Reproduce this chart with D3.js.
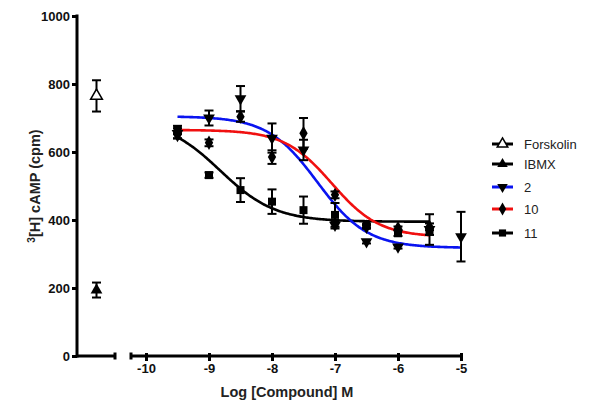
<!DOCTYPE html>
<html><head><meta charset="utf-8">
<script src="https://cdn.jsdelivr.net/npm/d3@7"></script>
<style>body{margin:0;background:#fff}svg{display:block}text{font-family:Arial,"Liberation Sans",sans-serif}</style>
</head><body><svg id="c" width="600" height="407"></svg>
<script>
// ---- data ----
const logConc = [-9.5, -9, -8.5, -8, -7.5, -7, -6.5, -6, -5.5, -5];
const c2Mean  = [655, 700, 757, 641, 606, 385, 336, 321, 372, 351];
const c2Err   = [15, 22, 37, 43, 30, 10, 5, 5, 45, 73];
const c10Mean = [650, 627, 704, 585, 655, 474, 380, 376, 380];
const c10Err  = [10, 10, 15, 20, 45, 10, 5, 5, 10];
const c11Mean = [665, 532, 488, 454, 429, 415, 383, 361, 366];
const c11Err  = [12, 8, 35, 36, 40, 35, 5, 8, 10];
const controlNames = ["Forskolin", "IBMX"];
const controlMean = [765, 194];
const controlErr  = [46, 22];
// fitted sigmoid parameters: [top, bottom, logIC50, hill, xmin, xmax]
const fit2  = [705, 318, -7.28, 1.1, -9.5, -5];
const fit10 = [665, 350, -7.05, 1.15, -9.5, -5.5];
const fit11 = [695, 395, -8.82, 1.0, -9.5, -5.5];
const xTicks = [-10, -9, -8, -7, -6, -5];
const yTicks = [0, 200, 400, 600, 800, 1000];
const legendNames = ["Forskolin", "IBMX", "2", "10", "11"];

// ---- scales ----
const svg = d3.select("#c");
const y = d3.scaleLinear().domain([0, 1000]).range([356, 16]);
const x = d3.scaleLinear().domain([-10, -5]).range([146, 461]);
const xc = d3.scaleBand().domain(["ctrl"]).range([77, 116]);
const xStart = x.invert(130);
const fmt = d3.format("d");

// ---- axes ----
const yAx = svg.append("g").attr("transform", "translate(77,0)")
  .call(d3.axisLeft(y).tickValues(yTicks).tickFormat(fmt).tickSize(5).tickSizeOuter(0).tickPadding(2));
yAx.select(".domain").attr("stroke-width", 3).attr("d", "M0,14.5V357.5");
yAx.selectAll(".tick line").attr("stroke-width", 3);
yAx.selectAll("text").attr("font-size", 13).attr("font-weight", "bold").attr("fill", "#111");

// left x segment (control section)
svg.append("line").attr("x1", 76).attr("x2", xc.range()[1]).attr("y1", 356).attr("y2", 356)
  .attr("stroke", "#000").attr("stroke-width", 3);
svg.append("line").attr("x1", xc.range()[1]-1).attr("x2", xc.range()[1]-1).attr("y1", 352.5).attr("y2", 359.5)
  .attr("stroke", "#000").attr("stroke-width", 3);

const xAx = svg.append("g").attr("transform", "translate(0,356)")
  .call(d3.axisBottom(x).tickValues(xTicks).tickFormat(d => d).tickSize(5).tickSizeOuter(0).tickPadding(3));
xAx.select(".domain").attr("stroke-width", 3).attr("d", `M${x(xStart)},0H${x(-5)+1.5}`);
xAx.selectAll(".tick line").attr("stroke-width", 3).attr("y1", -3);
xAx.selectAll("text").attr("font-size", 13).attr("font-weight", "bold").attr("fill", "#111");
svg.append("line").attr("x1", x(xStart)+1).attr("x2", x(xStart)+1).attr("y1", 352.5).attr("y2", 359.5)
  .attr("stroke", "#000").attr("stroke-width", 3);

// axis titles
svg.append("text").attr("x", 287).attr("y", 397).attr("text-anchor", "middle")
  .attr("font-size", 14.5).attr("font-weight", "bold").attr("fill", "#222").text("Log [Compound] M");
const yt = svg.append("text").attr("transform", "translate(40,186) rotate(-90)").attr("text-anchor", "middle")
  .attr("font-size", 14.5).attr("font-weight", "bold").attr("fill", "#222");
yt.append("tspan").attr("font-size", 10).attr("dy", -5).text("3");
yt.append("tspan").attr("dy", 5).text("[H] cAMP (cpm)");

// ---- curves ----
function curve(p, color) {
  const [top, bot, ic, h, x0, x1] = p;
  const pts = d3.range(x0, x1 + 1e-9, 0.02).map(v => [v, bot + (top - bot) / (1 + Math.pow(10, (v - ic) * h))]);
  svg.append("path").datum(pts)
    .attr("d", d3.line().x(d => x(d[0])).y(d => y(d[1])).curve(d3.curveMonotoneX))
    .attr("fill", "none").attr("stroke", color).attr("stroke-width", 2.6);
}
curve(fit11, "#000");
curve(fit2, "#0a14f0");
curve(fit10, "#f01010");

// ---- markers ----
function marker(g, type, cx, cy, s) {
  s = s || 1;
  let p;
  if (type === "up" || type === "upOpen") p = g.append("path").attr("d", d3.symbol(d3.symbolTriangle, 60*s)());
  else if (type === "down") p = g.append("path").attr("d", d3.symbol(d3.symbolTriangle, 60*s)()).attr("transform", `translate(${cx},${cy}) rotate(180)`);
  else if (type === "diamond") p = g.append("path").attr("d", d3.symbol(d3.symbolDiamond, 60*s)());
  else p = g.append("path").attr("d", d3.symbol(d3.symbolSquare, 64*s)());
  if (type !== "down") p.attr("transform", `translate(${cx},${cy})`);
  if (type === "upOpen") p.attr("fill", "#fff").attr("stroke", "#000").attr("stroke-width", 1.5);
  else p.attr("fill", "#000");
  return p;
}
function errbar(g, cx, m, e) {
  const y1 = y(m + e), y2 = y(m - e);
  g.append("line").attr("x1", cx).attr("x2", cx).attr("y1", y1).attr("y2", y2).attr("stroke", "#000").attr("stroke-width", 2);
  [y1, y2].forEach(yy => g.append("line").attr("x1", cx-4.5).attr("x2", cx+4.5).attr("y1", yy).attr("y2", yy).attr("stroke", "#000").attr("stroke-width", 2));
}
const gp = svg.append("g");
function series(mean, err, type) {
  mean.forEach((m, i) => {
    errbar(gp, x(logConc[i]), m, err[i]);
    marker(gp, type, x(logConc[i]), y(m));
  });
}
series(c11Mean, c11Err, "square");
series(c10Mean, c10Err, "diamond");
series(c2Mean, c2Err, "down");
controlMean.forEach((m, i) => {
  const cx = xc("ctrl") + xc.bandwidth()/2;
  errbar(gp, cx, m, controlErr[i]);
  marker(gp, i === 0 ? "upOpen" : "up", cx, y(m));
});

// ---- legend ----
const legColors = ["#000", "#000", "#0a14f0", "#f01010", "#000"];
const legTypes = ["upOpen", "up", "down", "diamond", "square"];
const legY = [144, 164, 187, 209, 233];
const lg = svg.append("g");
legendNames.forEach((n, i) => {
  lg.append("line").attr("x1", 492).attr("x2", 513).attr("y1", legY[i]).attr("y2", legY[i])
    .attr("stroke", legColors[i]).attr("stroke-width", 3);
  marker(lg, legTypes[i], 502.5, legY[i], 0.8);
  lg.append("text").attr("x", 524).attr("y", legY[i] + 4.5).attr("font-size", 13).attr("fill", "#222").text(n);
});
</script></body></html>
